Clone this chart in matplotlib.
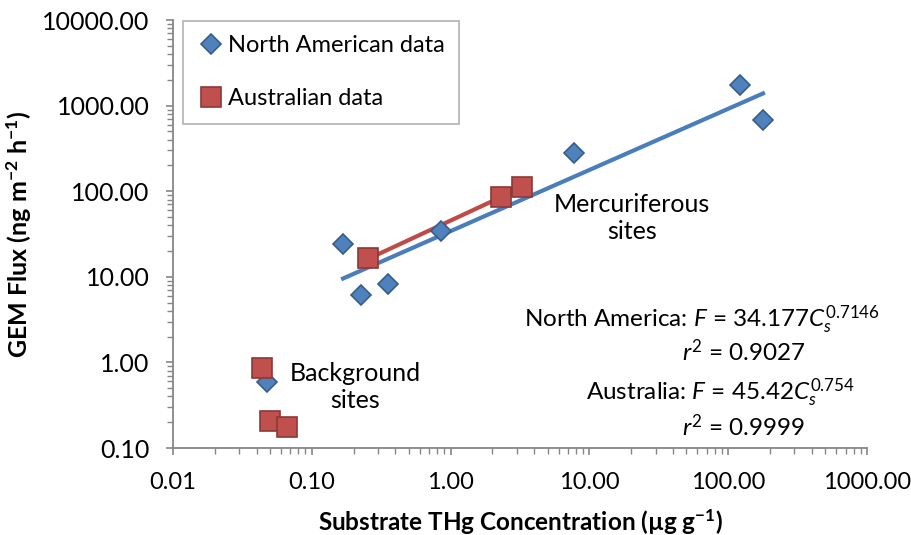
import matplotlib
matplotlib.use('Agg')
import matplotlib.pyplot as plt
import numpy as np

plt.rcParams['font.family'] = ['Lato', 'DejaVu Sans']
plt.rcParams['mathtext.fontset'] = 'custom'
plt.rcParams['mathtext.rm'] = 'Lato'
plt.rcParams['mathtext.it'] = 'Lato:italic'
plt.rcParams['mathtext.bf'] = 'Lato:bold'

# данные
na_conc = [0.168, 0.226, 0.354, 0.853, 7.74, 122, 178, 0.0475]
na_flux = [24.0, 6.1, 8.2, 34.5, 278, 1740, 680, 0.59]
au_conc = [0.254, 2.31, 3.27, 0.0438, 0.050, 0.066]
au_flux = [16.6, 86, 112, 0.86, 0.205, 0.176]

# степенные тренды (коэффициенты с графика)
na_a, na_b = 34.177, 0.7146
au_a, au_b = 45.42, 0.754
na_fit_x = [0.168, 178]
au_fit_x = [0.254, 3.27]

x_ticks = [0.01, 0.1, 1, 10, 100, 1000]
x_labels = ['0.01', '0.10', '1.00', '10.00', '100.00', '1000.00']
y_ticks = [0.1, 1, 10, 100, 1000, 10000]
y_labels = ['0.10', '1.00', '10.00', '100.00', '1000.00', '10000.00']

fig = plt.figure(figsize=(9.12, 5.35), dpi=100)
ax = fig.add_axes([0.1897, 0.1626, 0.761, 0.80])

xf = np.array(na_fit_x)
ax.plot(xf, na_a * xf ** na_b, color='#4A7EBB', lw=3, zorder=3)
xf = np.array(au_fit_x)
ax.plot(xf, au_a * xf ** au_b, color='#BE4B48', lw=3, zorder=3)

ax.plot(na_conc, na_flux, 'D', ms=10, mfc='#4F81BD', mec='#385D8A', mew=1.2,
        ls='none', label='North American data', zorder=4)
ax.plot(au_conc, au_flux, 's', ms=14, mfc='#C0504D', mec='#8C3836', mew=1.2,
        ls='none', label='Australian data', zorder=5)

ax.set_xscale('log')
ax.set_yscale('log')
ax.set_xlim(0.01, 1000)
ax.set_ylim(0.1, 10000)
ax.set_xticks(x_ticks)
ax.set_xticklabels(x_labels)
ax.set_yticks(y_ticks)
ax.set_yticklabels(y_labels)

for s in ['top', 'right']:
    ax.spines[s].set_visible(False)
for s in ['left', 'bottom']:
    ax.spines[s].set_color('#868686')
    ax.spines[s].set_linewidth(1.3)
ax.tick_params(which='major', length=5, width=1.2, color='#868686')
ax.tick_params(which='minor', length=4, width=1, color='#868686')
ax.tick_params(axis='x', which='major', labelsize=17, pad=12)
ax.tick_params(axis='y', which='major', labelsize=18, pad=12)

ax.set_xlabel(r'Substrate THg Concentration (µg g$^{\mathbf{-1}}$)',
              fontsize=17.5, fontweight='bold', labelpad=10)
ax.set_ylabel(r'GEM Flux (ng m$^{\mathbf{-2}}$ h$^{\mathbf{-1}}$)',
              fontsize=18, fontweight='bold', labelpad=6)

leg = ax.legend(loc='upper left', bbox_to_anchor=(0.014, 0.997), fontsize=17,
                frameon=True, fancybox=False, handletextpad=0.1,
                handlelength=1.2, labelspacing=1.35, borderpad=0.6,
                borderaxespad=0)
leg.get_frame().set_edgecolor('#A6A6A6')
leg.get_frame().set_linewidth(1.3)

ax.annotate('Mercuriferous\nsites', xy=(632, 535 - 218), xycoords='figure pixels',
            ha='center', va='center', fontsize=18, linespacing=1.25)
ax.annotate('Background\nsites', xy=(355, 535 - 387), xycoords='figure pixels',
            ha='center', va='center', fontsize=18, linespacing=1.25)

ax.annotate(r'North America: $F$ = 34.177$C_s^{0.7146}$', xy=(880, 535 - 320),
            xycoords='figure pixels', ha='right', va='center', fontsize=17.5)
ax.annotate(r'$r^2$ = 0.9027', xy=(805, 535 - 352),
            xycoords='figure pixels', ha='right', va='center', fontsize=17.5)
ax.annotate(r'Australia: $F$ = 45.42$C_s^{0.754}$', xy=(855, 535 - 393),
            xycoords='figure pixels', ha='right', va='center', fontsize=17.5)
ax.annotate(r'$r^2$ = 0.9999', xy=(805, 535 - 427),
            xycoords='figure pixels', ha='right', va='center', fontsize=17.5)

fig.savefig('out.png', dpi=100)
